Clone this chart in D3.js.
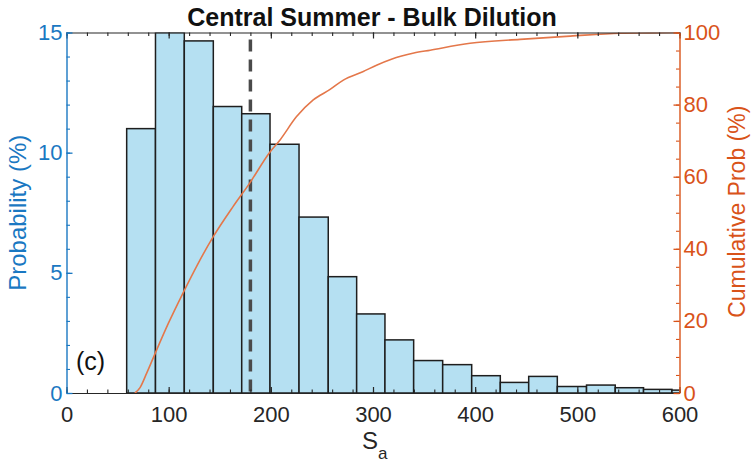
<!DOCTYPE html>
<html>
<head>
<meta charset="utf-8">
<script src="https://cdn.jsdelivr.net/npm/d3@7"></script>
<style>
  html, body { margin: 0; padding: 0; background: #fff; }
  svg { display: block; font-family: "Liberation Sans", Arial, Helvetica, sans-serif; }
</style>
</head>
<body>
<svg id="chart" width="751" height="467"></svg>
<script>
// Histogram of S_a: bin edges and probability per bin (%)
const binEdges = [58.9, 87.1, 115.3, 143.7, 171.5, 199.2, 227.6, 256.2, 284.0, 311.7,
                  339.8, 368.2, 396.6, 424.6, 452.4, 480.4, 509.0, 537.1, 564.8, 592.6, 620.7];
const probability = [11.0, 15.0, 14.65, 11.92, 11.62, 10.35, 7.32, 4.84, 3.29, 2.21,
                     1.35, 1.18, 0.72, 0.44, 0.69, 0.27, 0.33, 0.22, 0.15, 0.12];

// Cumulative probability curve (%)
const cumX = [67, 72, 78.5, 86.8, 100, 114.5, 128, 143.5, 163, 179.5, 199, 209, 225, 241.5,
              258, 271, 290, 304, 318, 340, 356, 395, 444, 493, 542, 570, 600];
const cumY = [0, 1.5, 5.5, 11, 19.5, 28, 35.5, 43.3, 51.7, 58.3, 66.8, 70.2, 76.6, 81.3,
              84.2, 86.8, 89.1, 91, 92.6, 94.3, 95.1, 97, 98.1, 99, 99.8, 99.9, 100];

// Median marker
const medianSa = 180;

// Axis ticks
const xTicks = [0, 100, 200, 300, 400, 500, 600];
const yLeftTicks = [0, 5, 10, 15];
const yRightTicks = [0, 20, 40, 60, 80, 100];

const titleText = "Central Summer - Bulk Dilution";
const panelLabel = "(c)";

const blue = "#1a78c2";
const orange = "#D95319";
const dark = "#262626";

const svg = d3.select("#chart");
const m = { left: 66.5, right: 751 - 679.5, top: 32.5, bottom: 467 - 393 };
const W = 751 - m.left - m.right;
const H = 467 - m.top - m.bottom;

const x = d3.scaleLinear().domain([0, 600]).range([0, W]);
const yL = d3.scaleLinear().domain([0, 15]).range([H, 0]);
const yR = d3.scaleLinear().domain([0, 100]).range([H, 0]);

const g = svg.append("g").attr("transform", `translate(${m.left},${m.top})`);

svg.append("defs").append("clipPath").attr("id", "plot")
  .append("rect").attr("x", 0).attr("y", 0).attr("width", W).attr("height", H);

const plot = g.append("g").attr("clip-path", "url(#plot)");

// Bars
const bins = probability.map((p, i) => ({ x0: binEdges[i], x1: binEdges[i + 1], p }));
plot.selectAll("rect.bar").data(bins).join("rect")
  .attr("class", "bar")
  .attr("x", d => x(d.x0))
  .attr("width", d => x(d.x1) - x(d.x0))
  .attr("y", d => yL(d.p))
  .attr("height", d => yL(0) - yL(d.p))
  .attr("fill", "#b5e0f2")
  .attr("stroke", "#1e1e1e")
  .attr("stroke-width", 1.5);

// Median dashed line
plot.append("line")
  .attr("x1", x(medianSa)).attr("x2", x(medianSa))
  .attr("y1", 0).attr("y2", H)
  .attr("stroke", "#4a4a4a")
  .attr("stroke-width", 3.5)
  .attr("stroke-dasharray", "12,8")
  .attr("stroke-dashoffset", -7);

// Cumulative curve
const cum = cumX.map((v, i) => [v, cumY[i]]);
plot.append("path")
  .datum(cum)
  .attr("fill", "none")
  .attr("stroke", "#e4774a")
  .attr("stroke-width", 1.6)
  .attr("d", d3.line().x(d => x(d[0])).y(d => yR(d[1])).curve(d3.curveMonotoneX));

// Axes with inward major and minor ticks
const tickFont = 22;
function minorRange(a, b, s) { return d3.range(a, b + 1e-9, s); }

// Bottom axis
const xAxis = d3.axisBottom(x).tickValues(xTicks).tickSize(-6).tickPadding(13).tickSizeOuter(0);
const gx = g.append("g").attr("transform", `translate(0,${H})`).call(xAxis);
gx.select(".domain").attr("stroke", dark).attr("stroke-width", 1.2);
gx.selectAll(".tick line").attr("stroke", dark).attr("stroke-width", 1.2);
gx.selectAll("text").attr("fill", dark).attr("font-size", tickFont).attr("font-family", "Liberation Sans, Arial, sans-serif");
g.append("g").attr("transform", `translate(0,${H})`)
  .call(d3.axisBottom(x).tickValues(minorRange(0, 600, 20)).tickSize(-3.5).tickFormat("").tickSizeOuter(0))
  .call(s => { s.select(".domain").remove(); s.selectAll("line").attr("stroke", dark).attr("stroke-width", 1.1); });

// Top box line with ticks
const gt = g.append("g").call(d3.axisTop(x).tickValues(xTicks).tickSize(-6).tickFormat("").tickSizeOuter(0));
gt.select(".domain").attr("stroke", dark).attr("stroke-width", 1.2);
gt.selectAll("line").attr("stroke", dark).attr("stroke-width", 1.2);
g.append("g")
  .call(d3.axisTop(x).tickValues(minorRange(0, 600, 20)).tickSize(-3.5).tickFormat("").tickSizeOuter(0))
  .call(s => { s.select(".domain").remove(); s.selectAll("line").attr("stroke", dark).attr("stroke-width", 1.1); });

// Left axis
const gl = g.append("g").call(d3.axisLeft(yL).tickValues(yLeftTicks).tickSize(-6).tickPadding(4).tickSizeOuter(0));
gl.select(".domain").attr("stroke", blue).attr("stroke-width", 1.4);
gl.selectAll(".tick line").attr("stroke", blue).attr("stroke-width", 1.3);
gl.selectAll("text").attr("fill", blue).attr("font-size", tickFont).attr("font-family", "Liberation Sans, Arial, sans-serif");
g.append("g")
  .call(d3.axisLeft(yL).tickValues(minorRange(0, 15, 1)).tickSize(-3.5).tickFormat("").tickSizeOuter(0))
  .call(s => { s.select(".domain").remove(); s.selectAll("line").attr("stroke", blue).attr("stroke-width", 1.1); });

// Right axis
const gr = g.append("g").attr("transform", `translate(${W},0)`)
  .call(d3.axisRight(yR).tickValues(yRightTicks).tickSize(-6).tickPadding(4).tickSizeOuter(0));
gr.select(".domain").attr("stroke", orange).attr("stroke-width", 1.4);
gr.selectAll(".tick line").attr("stroke", orange).attr("stroke-width", 1.3);
gr.selectAll("text").attr("fill", orange).attr("font-size", tickFont).attr("font-family", "Liberation Sans, Arial, sans-serif");
g.append("g").attr("transform", `translate(${W},0)`)
  .call(d3.axisRight(yR).tickValues(minorRange(0, 100, 5)).tickSize(-3.5).tickFormat("").tickSizeOuter(0))
  .call(s => { s.select(".domain").remove(); s.selectAll("line").attr("stroke", orange).attr("stroke-width", 1.1); });

// Title
svg.append("text")
  .attr("x", m.left + W / 2 - 1).attr("y", 26)
  .attr("text-anchor", "middle")
  .attr("font-size", 25).attr("font-weight", "bold").attr("fill", "#111")
  .text(titleText);

// Axis labels
svg.append("text")
  .attr("transform", `translate(26,${m.top + H / 2}) rotate(-90)`)
  .attr("text-anchor", "middle")
  .attr("font-size", 24).attr("fill", blue)
  .text("Probability (%)");

svg.append("text")
  .attr("transform", `translate(745,${m.top + H / 2 - 1}) rotate(-90)`)
  .attr("text-anchor", "middle")
  .attr("font-size", 23).attr("fill", orange)
  .text("Cumulative Prob (%)");

const xl = svg.append("text")
  .attr("x", 362).attr("y", 449)
  .attr("text-anchor", "start")
  .attr("font-size", 24).attr("fill", dark);
xl.append("tspan").text("S");
xl.append("tspan").attr("font-size", 17).attr("dy", 10).text("a");

// Panel label
svg.append("text")
  .attr("x", 76).attr("y", 370)
  .attr("font-size", 25).attr("fill", "#111")
  .text(panelLabel);
</script>
</body>
</html>
